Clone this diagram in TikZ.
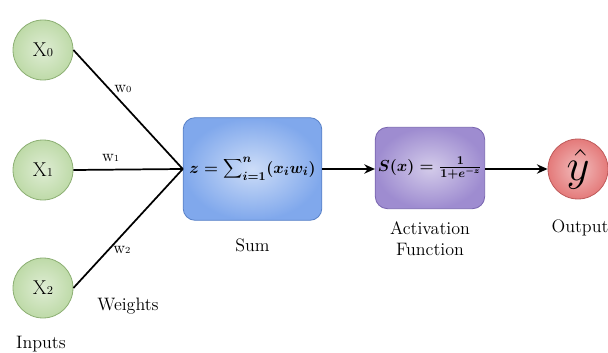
\documentclass[tikz,border=0pt]{standalone}
\usetikzlibrary{positioning, arrows.meta}

\definecolor{inputfill}{RGB}{190,218,168}
\definecolor{inputedge}{RGB}{140,175,115}
\definecolor{sumfill}{RGB}{128,168,236}
\definecolor{sumedge}{RGB}{90,130,200}
\definecolor{actfill}{RGB}{158,140,208}
\definecolor{actedge}{RGB}{120,100,175}
\definecolor{outfill}{RGB}{228,122,122}
\definecolor{outedge}{RGB}{190,90,90}

\begin{document}
\begin{tikzpicture}
    [
        x=0.75pt, y=-0.75pt,
        font=\fontsize{13.5}{16}\selectfont,
        node distance=6pt,
        neuron/.style={circle, minimum size=45pt, inner sep=0pt, line width=0.6pt},
        inputnode/.style={neuron, draw=inputedge, inner color=inputfill!50, outer color=inputfill, font=\fontsize{15}{18}\selectfont},
        outputnode/.style={neuron, draw=outedge, inner color=outfill!50, outer color=outfill, font=\Huge},
        block/.style={rounded corners=9pt, inner sep=0pt, line width=0.6pt},
        sumblock/.style={block, draw=sumedge, inner color=sumfill!40, outer color=sumfill, minimum width=104pt, minimum height=77pt, font=\fontsize{13}{15}\selectfont\boldmath},
        actblock/.style={block, draw=actedge, inner color=actfill!45, outer color=actfill, minimum width=82pt, minimum height=61pt, font=\fontsize{12.5}{15}\selectfont\boldmath},
        weight/.style={inner sep=3pt, anchor=west, font=\fontsize{12.5}{15}\selectfont},
        link/.style={line width=1.3pt},
        flow/.style={link, -{Stealth[length=8pt, width=7pt]}}
    ]
        \useasboundingbox (0,0) rectangle (608,353);
        % =========================================================================
        % NODES
        % =========================================================================
        % --- Inputs ---
        \node [inputnode] (x0) at (43,50) {X{\small 0}};
        \node [inputnode] (x1) at (43,170) {X{\small 1}};
        \node [inputnode] (x2) at (43,288) {X{\small 2}};
        % --- Sum and activation ---
        \node [sumblock] (sum) at (252.5,169) {$z=\displaystyle\sum\nolimits_{i=1}^{n}(x_i w_i)$};
        \node [actblock] (act) at (430,168) {$S(x)=\frac{1}{1+e^{-z}}$};
        \coordinate (join) at (sum.west);
        % --- Output ---
        \node [outputnode] (yhat) at (578,169) {\scalebox{1.35}{$\hat{y}$}};
        % --- Captions ---
        \node (inputs) at (41,344) {Inputs};
        \node (weights) at (128,306) {Weights};
        \node [below=10pt of sum] (sumlbl) {Sum};
        \node [below=6pt of act, align=center] (actlbl) {Activation\\Function};
        \node (outlbl) at (580,228) {Output};

        % =========================================================================
        % PATHS
        % =========================================================================
        \draw [link] (x0.east) -- node [weight, pos=0.33] {w{\scriptsize 0}} (join);
        \draw [link] (x1.east) -- node [weight, pos=0.34, anchor=south, inner sep=5pt] {w{\scriptsize 1}} (join);
        \draw [link] (x2.east) -- node [weight, pos=0.32] {w{\scriptsize 2}} (join);
        \draw [flow] (sum.east) -- (sum.east -| act.west);
        \draw [flow] (act.east |- sum.east) -- (yhat.west |- sum.east);

\end{tikzpicture}
\end{document}
